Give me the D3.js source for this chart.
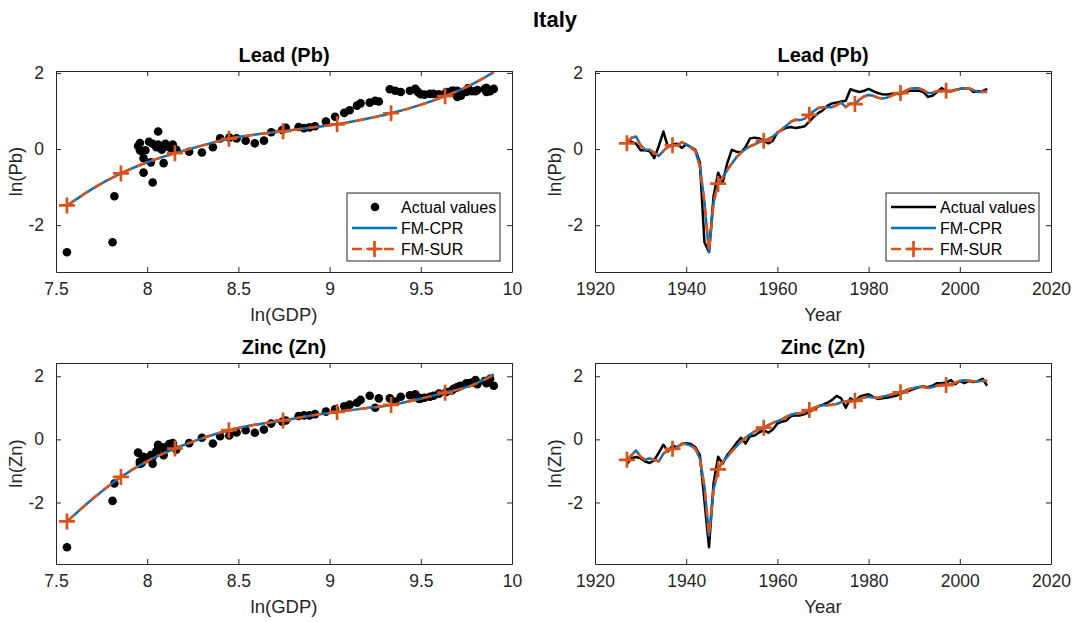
<!DOCTYPE html>
<html>
<head>
<meta charset="utf-8">
<script src="https://cdn.jsdelivr.net/npm/d3@7"></script>
<style>
  body { margin: 0; background: #fff; }
  text { font-family: "Liberation Sans", Arial, Helvetica, sans-serif; }
</style>
</head>
<body>
<svg id="fig" width="1082" height="622"></svg>
<script>
// ---- Data: Italy, 1927-2006 ----
const years = [1927,1928,1929,1930,1931,1932,1933,1934,1935,1936,1937,1938,1939,1940,1941,1942,1943,1944,1945,1946,
  1947,1948,1949,1950,1951,1952,1953,1954,1955,1956,1957,1958,1959,1960,1961,1962,1963,1964,1965,1966,
  1967,1968,1969,1970,1971,1972,1973,1974,1975,1976,1977,1978,1979,1980,1981,1982,1983,1984,1985,1986,
  1987,1988,1989,1990,1991,1992,1993,1994,1995,1996,1997,1998,1999,2000,2001,2002,2003,2004,2005,2006];

const lnGDP = [7.96,8.01,8.03,7.99,7.96,7.97,7.98,7.95,8.06,8.05,8.06,8.10,8.13,8.14,8.12,8.08,8.02,7.81,7.56,7.82,
  7.98,8.03,8.09,8.16,8.23,8.30,8.36,8.40,8.45,8.49,8.54,8.59,8.64,8.68,8.74,8.76,8.83,8.86,8.89,8.92,
  8.98,9.03,9.08,9.11,9.15,9.17,9.22,9.27,9.25,9.33,9.36,9.39,9.44,9.47,9.48,9.49,9.50,9.52,9.55,9.57,
  9.60,9.64,9.67,9.68,9.70,9.71,9.70,9.72,9.75,9.76,9.78,9.80,9.81,9.85,9.86,9.86,9.86,9.87,9.88,9.90];

const leadActual = [0.16,0.19,0.14,-0.03,-0.03,-0.06,-0.24,0.08,0.46,0.05,0.12,0.14,0.03,0.12,0.05,-0.02,-0.35,-2.45,-2.71,-1.24,
  -0.62,-0.88,-0.37,-0.02,-0.07,-0.09,0.05,0.28,0.30,0.28,0.22,0.15,0.22,0.44,0.50,0.56,0.58,0.55,0.57,0.60,
  0.72,0.85,0.95,1.02,1.14,1.20,1.22,1.25,1.27,1.57,1.53,1.50,1.53,1.58,1.52,1.47,1.44,1.43,1.45,1.45,
  1.44,1.50,1.53,1.53,1.53,1.50,1.37,1.40,1.50,1.60,1.52,1.52,1.55,1.58,1.60,1.60,1.50,1.52,1.52,1.58];

const leadCPR = [0.15,0.30,0.33,0.10,-0.02,-0.02,-0.10,-0.18,-0.05,0.06,0.10,0.10,0.18,0.12,0.04,-0.05,-0.45,-1.40,-2.70,-1.40,
  -0.91,-0.75,-0.55,-0.38,-0.22,-0.10,0.00,0.07,0.12,0.18,0.22,0.26,0.33,0.42,0.52,0.62,0.72,0.77,0.76,0.80,
  0.90,1.00,1.08,1.10,1.10,1.10,1.15,1.22,1.10,1.20,1.18,1.30,1.38,1.42,1.40,1.35,1.33,1.35,1.40,1.45,
  1.47,1.52,1.58,1.60,1.60,1.55,1.47,1.48,1.52,1.52,1.53,1.52,1.55,1.58,1.60,1.60,1.55,1.50,1.50,1.50];

const leadSUR = [0.15,0.29,0.32,0.10,-0.02,-0.02,-0.10,-0.17,-0.05,0.06,0.10,0.10,0.18,0.12,0.04,-0.05,-0.45,-1.40,-2.68,-1.40,
  -0.91,-0.75,-0.55,-0.38,-0.22,-0.10,0.00,0.07,0.12,0.18,0.22,0.26,0.33,0.42,0.52,0.62,0.72,0.77,0.76,0.80,
  0.90,1.00,1.08,1.10,1.10,1.10,1.15,1.22,1.10,1.20,1.18,1.30,1.38,1.42,1.40,1.35,1.33,1.35,1.40,1.45,
  1.47,1.52,1.58,1.60,1.60,1.55,1.47,1.48,1.52,1.52,1.53,1.52,1.55,1.58,1.60,1.60,1.55,1.51,1.51,1.51];

const zincActual = [-0.78,-0.60,-0.56,-0.60,-0.70,-0.75,-0.66,-0.42,-0.17,-0.38,-0.20,-0.25,-0.15,-0.12,-0.15,-0.25,-0.50,-1.95,-3.42,-1.40,
  -0.55,-0.77,-0.50,-0.32,-0.12,0.05,-0.13,0.10,0.12,0.22,0.29,0.21,0.31,0.50,0.56,0.60,0.74,0.76,0.76,0.80,
  0.88,0.95,1.05,1.10,1.16,1.25,1.38,1.30,1.00,1.30,1.20,1.35,1.40,1.43,1.35,1.28,1.30,1.32,1.35,1.38,
  1.45,1.50,1.55,1.60,1.65,1.68,1.65,1.70,1.78,1.78,1.80,1.88,1.75,1.85,1.78,1.85,1.82,1.85,1.92,1.70];

const zincCPR = [-0.65,-0.50,-0.35,-0.55,-0.65,-0.60,-0.65,-0.70,-0.45,-0.35,-0.30,-0.25,-0.15,-0.15,-0.20,-0.30,-0.60,-1.50,-3.05,-1.60,
  -0.95,-0.72,-0.55,-0.38,-0.22,-0.08,0.05,0.15,0.25,0.32,0.37,0.45,0.52,0.58,0.63,0.72,0.78,0.82,0.83,0.86,
  0.93,1.00,1.05,1.08,1.08,1.10,1.12,1.18,1.20,1.20,1.22,1.28,1.33,1.35,1.33,1.32,1.35,1.38,1.42,1.46,
  1.49,1.54,1.60,1.63,1.66,1.66,1.63,1.66,1.70,1.72,1.72,1.75,1.79,1.85,1.87,1.86,1.84,1.84,1.86,1.85];

const zincSUR = [-0.65,-0.51,-0.37,-0.55,-0.65,-0.60,-0.65,-0.69,-0.45,-0.35,-0.30,-0.25,-0.15,-0.15,-0.20,-0.30,-0.60,-1.50,-3.02,-1.60,
  -0.95,-0.72,-0.55,-0.38,-0.22,-0.08,0.05,0.15,0.25,0.32,0.37,0.45,0.52,0.58,0.63,0.72,0.78,0.82,0.83,0.86,
  0.93,1.00,1.05,1.08,1.08,1.10,1.12,1.18,1.20,1.20,1.22,1.28,1.33,1.35,1.33,1.32,1.35,1.38,1.42,1.46,
  1.49,1.54,1.60,1.63,1.66,1.66,1.63,1.66,1.70,1.72,1.72,1.75,1.79,1.85,1.87,1.86,1.84,1.84,1.86,1.86];

// Fitted long-run curves against ln(GDP)
const curveGDP = [7.56,7.708,7.856,8.004,8.152,8.300,8.448,8.597,8.745,8.893,9.041,9.189,9.337,9.485,9.633,9.781,9.90];
const leadCurveCPR = [-1.49,-1.02,-0.64,-0.34,-0.11,0.09,0.27,0.38,0.47,0.56,0.65,0.78,0.94,1.14,1.39,1.70,2.02];
const leadCurveSUR = [-1.48,-1.02,-0.64,-0.34,-0.11,0.09,0.27,0.38,0.47,0.56,0.65,0.78,0.94,1.14,1.39,1.70,2.02];
const zincCurveCPR = [-2.61,-1.85,-1.19,-0.68,-0.29,0.03,0.29,0.47,0.60,0.75,0.87,0.98,1.09,1.27,1.48,1.72,2.06];
const zincCurveSUR = [-2.60,-1.85,-1.19,-0.68,-0.29,0.03,0.29,0.47,0.60,0.75,0.87,0.98,1.09,1.27,1.48,1.71,2.04];

// Axis ticks
const gdpTicks = [7.5, 8, 8.5, 9, 9.5, 10];
const yearTicks = [1920, 1940, 1960, 1980, 2000, 2020];
const valueTicks = [-2, 0, 2];

const seriesNames = ["Actual values", "FM-CPR", "FM-SUR"];

// ---- Drawing ----
const BLUE = "#0072BD", ORANGE = "#D95319", AXIS = "#262626";
const LW = 2.5;
const svg = d3.select("#fig");

svg.append("text")
  .attr("x", 555).attr("y", 27)
  .attr("text-anchor", "middle")
  .style("font-size", "22px").style("font-weight", "bold").attr("fill", "#000")
  .text("Italy");

function plusPath(s) { return `M${-s},0H${s}M0,${-s}V${s}`; }

function drawPanel(cfg) {
  const g = svg.append("g").attr("transform", `translate(${cfg.x0},${cfg.y0})`);
  const x = d3.scaleLinear().domain(cfg.xDomain).range([0, cfg.w]);
  const y = d3.scaleLinear().domain(cfg.yDomain).range([cfg.h, 0]);

  // series
  const plot = g.append("g");
  if (cfg.kind === "scatter") {
    plot.selectAll("circle").data(cfg.px.map((v, i) => [v, cfg.actual[i]]))
      .join("circle")
      .attr("cx", d => x(d[0])).attr("cy", d => y(d[1]))
      .attr("r", 4.3).attr("fill", "#000");
    const line = d3.line().x(d => x(d[0])).y(d => y(d[1])).curve(d3.curveMonotoneX);
    const cpr = cfg.cx.map((v, i) => [v, cfg.cpr[i]]);
    const sur = cfg.cx.map((v, i) => [v, cfg.sur[i]]);
    plot.append("path").attr("d", line(cpr)).attr("fill", "none")
      .attr("stroke", BLUE).attr("stroke-width", LW);
    plot.append("path").attr("d", line(sur)).attr("fill", "none")
      .attr("stroke", ORANGE).attr("stroke-width", LW).attr("stroke-dasharray", "10,6");
    plot.selectAll("path.mk").data(sur.filter((d, i) => i % 2 === 0 && i < sur.length - 1))
      .join("path").attr("class", "mk")
      .attr("transform", d => `translate(${x(d[0])},${y(d[1])})`)
      .attr("d", plusPath(8)).attr("stroke", ORANGE).attr("stroke-width", 2.7);
  } else {
    const line = d3.line().x(d => x(d[0])).y(d => y(d[1]));
    const act = cfg.px.map((v, i) => [v, cfg.actual[i]]);
    const cpr = cfg.px.map((v, i) => [v, cfg.cpr[i]]);
    const sur = cfg.px.map((v, i) => [v, cfg.sur[i]]);
    plot.append("path").attr("d", line(act)).attr("fill", "none")
      .attr("stroke", "#000").attr("stroke-width", LW).attr("stroke-linejoin", "round");
    plot.append("path").attr("d", line(cpr)).attr("fill", "none")
      .attr("stroke", BLUE).attr("stroke-width", LW).attr("stroke-linejoin", "round");
    plot.append("path").attr("d", line(sur)).attr("fill", "none")
      .attr("stroke", ORANGE).attr("stroke-width", LW).attr("stroke-dasharray", "10,6");
    plot.selectAll("path.mk").data(sur.filter((d, i) => i % 10 === 0))
      .join("path").attr("class", "mk")
      .attr("transform", d => `translate(${x(d[0])},${y(d[1])})`)
      .attr("d", plusPath(8)).attr("stroke", ORANGE).attr("stroke-width", 2.7);
  }

  // axes with inward ticks on all four sides
  const fmt = d => String(d);
  const ax = (axis, cls, tr) => {
    const a = g.append("g").attr("class", cls).attr("transform", tr).call(axis);
    a.select(".domain").attr("stroke", AXIS).attr("stroke-width", 1);
    a.selectAll(".tick line").attr("stroke", AXIS).attr("stroke-width", 1);
    a.selectAll("text").attr("fill", AXIS).style("font-size", "17.5px").attr("font-family", null);
    return a;
  };
  ax(d3.axisBottom(x).tickValues(cfg.xTicks).tickFormat(fmt).tickSizeInner(-5).tickSizeOuter(0).tickPadding(12),
     "xb", `translate(0,${cfg.h})`);
  ax(d3.axisTop(x).tickValues(cfg.xTicks).tickFormat("").tickSizeInner(-5).tickSizeOuter(0), "xt", "translate(0,0)");
  ax(d3.axisLeft(y).tickValues(valueTicks).tickFormat(fmt).tickSizeInner(-5).tickSizeOuter(0).tickPadding(12),
     "yl", "translate(0,0)");
  ax(d3.axisRight(y).tickValues(valueTicks).tickFormat("").tickSizeInner(-5).tickSizeOuter(0), "yr", `translate(${cfg.w},0)`);
  g.selectAll(".xb text").attr("dy", "0.71em").attr("y", 11);

  // title and labels
  g.append("text").attr("x", cfg.w / 2).attr("y", -9.5).attr("text-anchor", "middle")
    .style("font-size", "20px").style("font-weight", "bold").attr("fill", "#000").text(cfg.title);
  g.append("text").attr("x", cfg.w / 2).attr("y", cfg.h + 49).attr("text-anchor", "middle")
    .style("font-size", "18.5px").attr("fill", AXIS).text(cfg.xLabel);
  g.append("text").attr("transform", `translate(${cfg.yLabX},${cfg.h / 2}) rotate(-90)`)
    .attr("text-anchor", "middle").style("font-size", "18.5px").attr("fill", AXIS).text(cfg.yLabel);

  // legend in the lower right corner
  if (cfg.legend) {
    const lw = 153, lh = 68;
    const lx = cfg.w - 12 - lw, ly = cfg.h - 11 - lh;
    const L = g.append("g").attr("transform", `translate(${lx},${ly})`);
    L.append("rect").attr("width", lw).attr("height", lh).attr("fill", "#fff")
      .attr("stroke", AXIS).attr("stroke-width", 1);
    const rows = [14, 35, 56];
    if (cfg.kind === "scatter") {
      L.append("circle").attr("cx", 28).attr("cy", rows[0]).attr("r", 4.3).attr("fill", "#000");
    } else {
      L.append("line").attr("x1", 5).attr("x2", 50).attr("y1", rows[0]).attr("y2", rows[0])
        .attr("stroke", "#000").attr("stroke-width", LW);
    }
    L.append("line").attr("x1", 5).attr("x2", 50).attr("y1", rows[1]).attr("y2", rows[1])
      .attr("stroke", BLUE).attr("stroke-width", LW);
    L.append("line").attr("x1", 5).attr("x2", 50).attr("y1", rows[2]).attr("y2", rows[2])
      .attr("stroke", ORANGE).attr("stroke-width", LW).attr("stroke-dasharray", "10,6");
    L.append("path").attr("transform", `translate(27.5,${rows[2]})`).attr("d", plusPath(8))
      .attr("stroke", ORANGE).attr("stroke-width", 2.7);
    seriesNames.forEach((n, i) => {
      L.append("text").attr("x", 54).attr("y", rows[i]).attr("dy", "0.36em")
        .style("font-size", "16px").attr("fill", "#000").text(n);
    });
  }
}

const W = 456, Hh = 201;
const leftX = 56, rightX = 595, topY = 71, botY = 363;

drawPanel({ x0: leftX, y0: topY, w: W, h: Hh, kind: "scatter", legend: true,
  xDomain: [7.5, 10], yDomain: [-3.23, 2.05], xTicks: gdpTicks,
  px: lnGDP, actual: leadActual, cx: curveGDP, cpr: leadCurveCPR, sur: leadCurveSUR,
  title: "Lead (Pb)", xLabel: "ln(GDP)", yLabel: "ln(Pb)", yLabX: -34 });

drawPanel({ x0: rightX, y0: topY, w: W, h: Hh, kind: "time", legend: true,
  xDomain: [1920, 2020], yDomain: [-3.23, 2.05], xTicks: yearTicks,
  px: years, actual: leadActual, cpr: leadCPR, sur: leadSUR,
  title: "Lead (Pb)", xLabel: "Year", yLabel: "ln(Pb)", yLabX: -34 });

drawPanel({ x0: leftX, y0: botY, w: W, h: Hh, kind: "scatter", legend: false,
  xDomain: [7.5, 10], yDomain: [-3.95, 2.42], xTicks: gdpTicks,
  px: lnGDP, actual: zincActual, cx: curveGDP, cpr: zincCurveCPR, sur: zincCurveSUR,
  title: "Zinc (Zn)", xLabel: "ln(GDP)", yLabel: "ln(Zn)", yLabX: -34 });

drawPanel({ x0: rightX, y0: botY, w: W, h: Hh, kind: "time", legend: false,
  xDomain: [1920, 2020], yDomain: [-3.95, 2.42], xTicks: yearTicks,
  px: years, actual: zincActual, cpr: zincCPR, sur: zincSUR,
  title: "Zinc (Zn)", xLabel: "Year", yLabel: "ln(Zn)", yLabX: -34 });
</script>
</body>
</html>
